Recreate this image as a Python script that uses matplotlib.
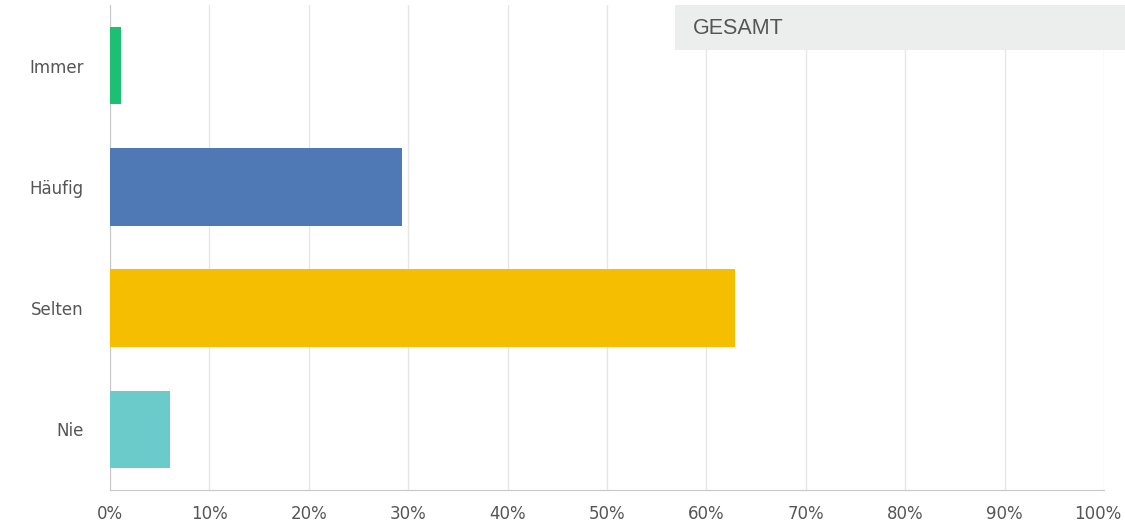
import matplotlib
matplotlib.use("Agg")
import matplotlib.pyplot as plt
from matplotlib.patches import Rectangle
import matplotlib.transforms as mtransforms

categories = ["Immer", "Häufig", "Selten", "Nie"]
values = [1.1, 29.4, 62.9, 6.0]
colors = ["#1DBF73", "#4E79B4", "#F6BE00", "#6BCACA"]
xticks = list(range(0, 101, 10))
xticklabels = [f"{t}%" for t in xticks]
panel_title = "GESAMT"

fig = plt.figure(figsize=(11.25, 5.24), dpi=100)
ax = fig.add_axes([110/1125, 1-490/524, (1104-110)/1125, (490-5)/524])

y = list(range(len(categories)))
ax.barh(y, values, height=0.64, color=colors, zorder=3)
ax.set_ylim(len(categories)-0.5, -0.5)
ax.set_xlim(0, 100)
ax.set_yticks(y)
ax.set_yticklabels(categories, fontsize=12, color="#555555", family="DejaVu Sans")
ax.set_xticks(xticks)
ax.set_xticklabels(xticklabels, fontsize=12, color="#555555", family="DejaVu Sans")
ax.tick_params(axis="both", length=0)
ax.tick_params(axis="y", pad=19)
ax.tick_params(axis="x", pad=11)
ax.grid(axis="x", color="#e6e6e6", linewidth=1, zorder=0)
for s in ["top", "right"]:
    ax.spines[s].set_visible(False)
ax.spines["left"].set_color("#c8c8c8")
ax.spines["bottom"].set_color("#c8c8c8")

# keep last tick label inside the figure
last = ax.get_xticklabels()[-1]
last.set_horizontalalignment("right")
last.set_transform(last.get_transform() + mtransforms.ScaledTranslation(17/100, 0, fig.dpi_scale_trans))

# title box
box = Rectangle((675/1125, 1-50/524), (1125-675)/1125, 45/524, transform=fig.transFigure,
                facecolor="#eceeee", edgecolor="none", zorder=5)
fig.patches.append(box)
fig.text(693/1125, 1-28/524, panel_title, fontsize=15.5, color="#555555",
         family="Liberation Sans", va="center", ha="left", zorder=6)

fig.savefig("out.png", dpi=100)
